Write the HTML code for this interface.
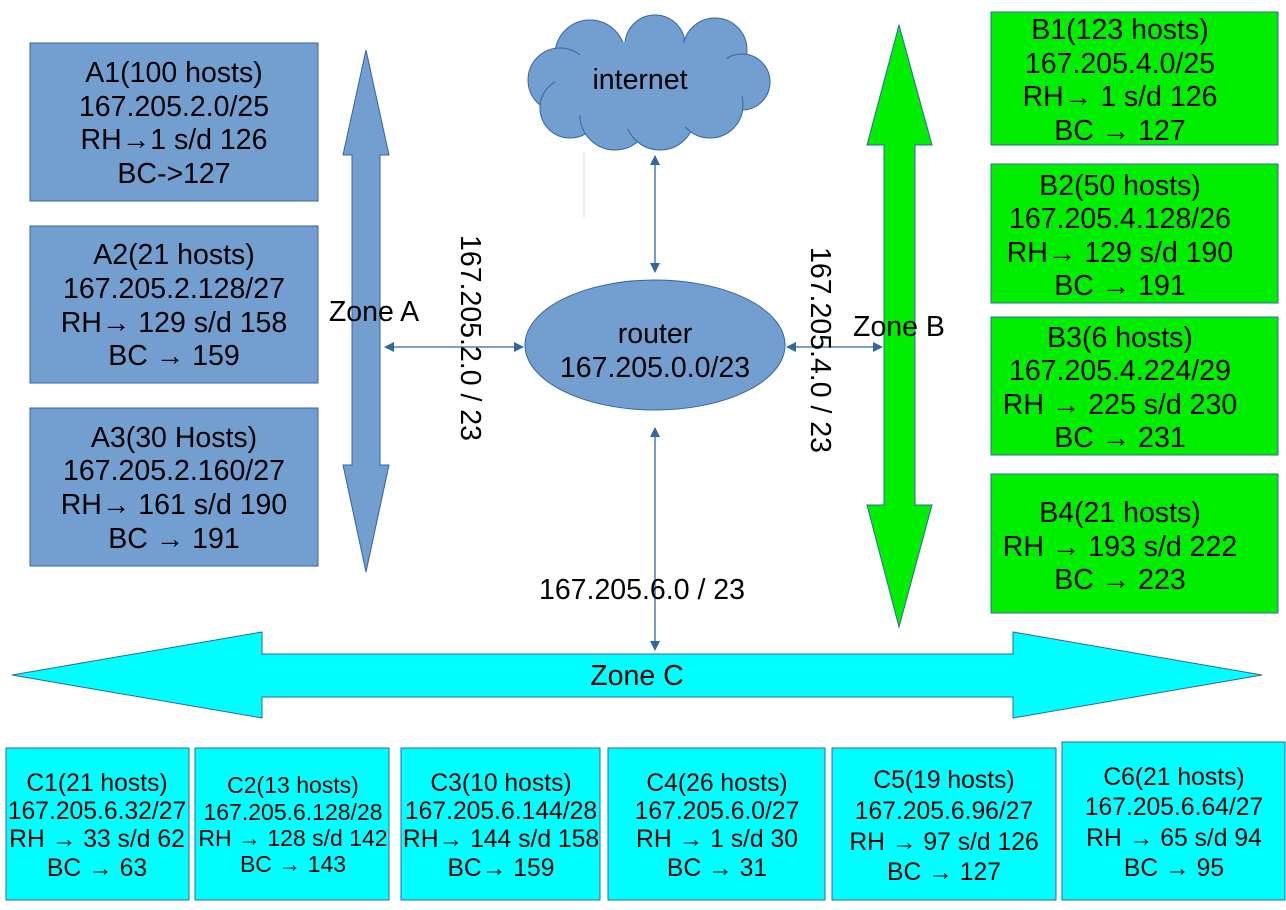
<!DOCTYPE html>
<html><head><meta charset="utf-8"><style>body{margin:0;background:#fff}svg{display:block}</style></head><body>
<svg width="1286" height="910" xmlns="http://www.w3.org/2000/svg" font-family="Liberation Sans, sans-serif" text-anchor="middle">
<defs>
<marker id="ar" markerWidth="10" markerHeight="10" refX="9" refY="5" orient="auto-start-reverse" markerUnits="userSpaceOnUse"><path d="M0,0 L10,5 L0,10 z" fill="#3465a4"/></marker>
</defs>
<polygon points="366,50 389,155 380,155 380,465 389,465 366,572 343,465 352,465 352,155 343,155" fill="#729fcf" stroke="#3465a4" stroke-width="1"/>
<polygon points="899,25 932,145 915,145 915,505 932,505 899,627 867,505 884,505 884,145 867,145" fill="#00ee00" stroke="#3465a4" stroke-width="1"/>
<polygon points="12,675 262,632 262,654 1013,654 1013,632 1262,675 1013,718 1013,697 262,697 262,718" fill="#00ffff" stroke="#3465a4" stroke-width="1"/>
<g fill="#729fcf" stroke="#3465a4"><rect x="30" y="43" width="288" height="158"/><rect x="30" y="226" width="288" height="157"/><rect x="30" y="408" width="288" height="158"/></g>
<g font-size="28.5" fill="#000">
<text x="174" y="82">A1(100 hosts)</text><text x="174" y="116">167.205.2.0/25</text><text x="174" y="149">RH→1 s/d 126</text><text x="174" y="183">BC-&gt;127</text>
<text x="174" y="264">A2(21 hosts)</text><text x="174" y="298">167.205.2.128/27</text><text x="174" y="332">RH→ 129 s/d 158</text><text x="174" y="365">BC → 159</text>
<text x="174" y="447">A3(30 Hosts)</text><text x="174" y="480">167.205.2.160/27</text><text x="174" y="514">RH→ 161 s/d 190</text><text x="174" y="548">BC → 191</text>
</g>
<g fill="#00ee00" stroke="#3465a4"><rect x="991" y="12" width="287" height="133"/><rect x="991" y="164" width="287" height="139"/><rect x="991" y="317" width="287" height="138"/><rect x="991" y="474" width="287" height="139"/></g>
<g font-size="28.5" fill="#000">
<text x="1120" y="39">B1(123 hosts)</text><text x="1120" y="73">167.205.4.0/25</text><text x="1120" y="106">RH→ 1 s/d 126</text><text x="1120" y="140">BC → 127</text>
<text x="1120" y="195">B2(50 hosts)</text><text x="1120" y="228">167.205.4.128/26</text><text x="1120" y="262">RH→ 129 s/d 190</text><text x="1120" y="295">BC → 191</text>
<text x="1120" y="347">B3(6 hosts)</text><text x="1120" y="380">167.205.4.224/29</text><text x="1120" y="414">RH → 225 s/d 230</text><text x="1120" y="447">BC → 231</text>
<text x="1120" y="522">B4(21 hosts)</text><text x="1120" y="556">RH → 193 s/d 222</text><text x="1120" y="589">BC → 223</text>
</g>
<g fill="#00ffff" stroke="#3465a4"><rect x="6" y="748" width="183" height="152"/><rect x="195" y="748" width="194" height="152"/><rect x="401" y="748" width="199" height="152"/><rect x="608" y="748" width="217" height="152"/><rect x="832" y="748" width="224" height="152"/><rect x="1062" y="742" width="223" height="158"/></g>
<g font-size="24.7" fill="#000">
<text x="97" y="791">C1(21 hosts)</text><text x="97" y="819">167.205.6.32/27</text><text x="97" y="847">RH → 33 s/d 62</text><text x="97" y="876">BC → 63</text>
<g font-size="23"><text x="293" y="793">C2(13 hosts)</text><text x="293" y="820">167.205.6.128/28</text><text x="293" y="846">RH → 128 s/d 142</text><text x="293" y="872">BC → 143</text></g>
<text x="501" y="791">C3(10 hosts)</text><text x="501" y="819">167.205.6.144/28</text><text x="501" y="847">RH→ 144 s/d 158</text><text x="501" y="876">BC→ 159</text>
<text x="717" y="791">C4(26 hosts)</text><text x="717" y="819">167.205.6.0/27</text><text x="717" y="847">RH → 1 s/d 30</text><text x="717" y="876">BC → 31</text>
<text x="944" y="788">C5(19 hosts)</text><text x="944" y="819">167.205.6.96/27</text><text x="944" y="850">RH → 97 s/d 126</text><text x="944" y="880">BC → 127</text>
<text x="1174" y="785">C6(21 hosts)</text><text x="1174" y="815">167.205.6.64/27</text><text x="1174" y="846">RH → 65 s/d 94</text><text x="1174" y="876">BC → 95</text>
</g>
<g fill="#729fcf" stroke="#3465a4" stroke-width="1">
<circle cx="590" cy="55" r="35"/><circle cx="655" cy="45" r="30"/><circle cx="715" cy="50" r="32"/><circle cx="742" cy="82" r="28"/><circle cx="560" cy="80" r="32"/><circle cx="570" cy="108" r="30"/><circle cx="615" cy="115" r="35"/><circle cx="660" cy="115" r="35"/><circle cx="710" cy="105" r="33"/>
</g>
<ellipse cx="650" cy="85" rx="95" ry="45" fill="#729fcf"/>
<text x="640" y="89" font-size="28.5">internet</text>
<line x1="584" y1="152" x2="584" y2="218" stroke="#ddd"/>
<ellipse cx="655" cy="345" rx="130" ry="65" fill="#729fcf" stroke="#3465a4"/>
<text x="655" y="343" font-size="28.5">router</text><text x="655" y="377" font-size="28.5">167.205.0.0/23</text>
<g stroke="#3465a4" stroke-width="1.3" marker-start="url(#ar)" marker-end="url(#ar)">
<line x1="655" y1="156" x2="655" y2="272"/><line x1="655" y1="428" x2="655" y2="650"/>
<line x1="385" y1="347" x2="523" y2="347"/><line x1="787" y1="347" x2="882" y2="347"/>
</g>
<g font-size="28.5" fill="#000">
<text x="374" y="321">Zone A</text><text x="899" y="336">Zone B</text><text x="637" y="685">Zone C</text><text x="642" y="599">167.205.6.0 / 23</text>
<text transform="translate(461,338) rotate(90)">167.205.2.0 / 23</text>
<text transform="translate(811,350) rotate(90)">167.205.4.0 / 23</text>
</g>
</svg>
</body></html>
